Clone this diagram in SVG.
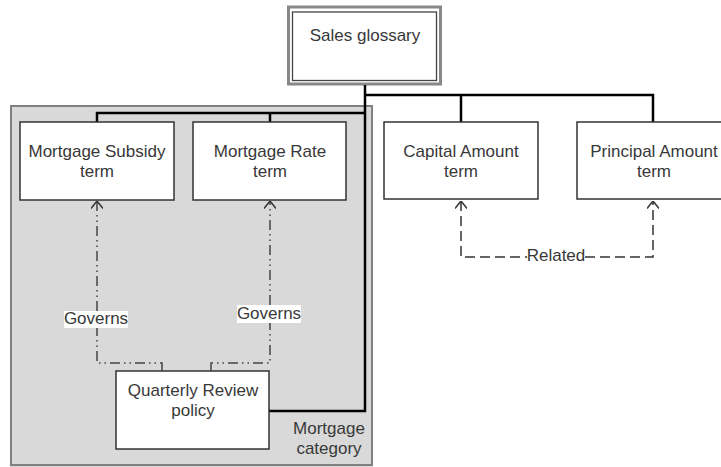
<svg xmlns="http://www.w3.org/2000/svg" width="721" height="467" viewBox="0 0 721 467">
  <style>
    text { font-family: "Liberation Sans", Arial, sans-serif; font-size: 17px; fill: #383838; text-anchor: middle; }
    .node { fill: #fff; stroke: #333; stroke-width: 1.5; }
    .hier { fill: none; stroke: #000; stroke-width: 2.5; }
    .gov { fill: none; stroke: #444; stroke-width: 1.5; stroke-dasharray: 10,4,1.5,4,1.5,4; }
    .rel { fill: none; stroke: #333; stroke-width: 1.5; stroke-dasharray: 10,5; }
    .lbl { fill: #fff; }
  </style>
  <defs>
    <marker id="open" viewBox="0 0 8 12" refX="7.5" refY="6" markerWidth="8" markerHeight="12" markerUnits="userSpaceOnUse" orient="auto-start-reverse">
      <path d="M0,0 L7.5,6 L0,12" fill="none" stroke="#333" stroke-width="1.5" stroke-dasharray="none"/>
    </marker>
  </defs>

  <g id="mortgage-category">
    <rect x="10" y="460" width="363" height="7" fill="#d9d9d9"/>
    <rect x="11" y="106" width="361" height="359" fill="#d9d9d9" stroke="#808080" stroke-width="2"/>
    <text x="329" y="434">Mortgage</text>
    <text x="329" y="454">category</text>
  </g>

  <g id="sales-glossary">
    <rect x="288.5" y="7" width="152" height="77" fill="#fff" stroke="#888" stroke-width="3"/>
    <rect x="292.5" y="12" width="144" height="68.5" fill="none" stroke="#444" stroke-width="1.3"/>
    <text x="365" y="41">Sales glossary</text>
  </g>

  <g id="connectors">
    <path class="hier" d="M365,85 V411 H269"/>
    <path class="hier" d="M365,95 H653 V122"/>
    <path class="hier" d="M461,95 V122"/>
    <path class="hier" d="M365,113 H97 V122"/>
    <path class="hier" d="M270,113 V122"/>
    <path class="gov" d="M162,371 V363 H97 V201" marker-end="url(#open)"/>
    <path class="gov" d="M211,371 V363 H270 V201" marker-end="url(#open)"/>
    <path class="rel" d="M461,201 V257 H653 V201" marker-start="url(#open)" marker-end="url(#open)"/>
    <rect class="lbl" x="64" y="311" width="64" height="17"/>
    <text x="96" y="324">Governs</text>
    <rect class="lbl" x="237" y="305" width="64" height="18"/>
    <text x="269" y="319">Governs</text>
    <rect class="lbl" x="527" y="247" width="58" height="15"/>
    <text x="556" y="261">Related</text>
  </g>

  <g id="mortgage-subsidy-term">
    <rect class="node" x="20" y="122" width="154" height="78"/>
    <text x="97" y="157">Mortgage Subsidy</text>
    <text x="97" y="177">term</text>
  </g>

  <g id="mortgage-rate-term">
    <rect class="node" x="193" y="122" width="153" height="78"/>
    <text x="270" y="157">Mortgage Rate</text>
    <text x="270" y="177">term</text>
  </g>

  <g id="capital-amount-term">
    <rect class="node" x="384" y="122" width="154" height="77"/>
    <text x="461" y="157">Capital Amount</text>
    <text x="461" y="177">term</text>
  </g>

  <g id="principal-amount-term">
    <rect class="node" x="577" y="122" width="154" height="77"/>
    <text x="654" y="157">Principal Amount</text>
    <text x="654" y="177">term</text>
  </g>

  <g id="quarterly-review-policy">
    <rect class="node" x="116" y="371" width="153" height="78"/>
    <text x="193" y="396">Quarterly Review</text>
    <text x="193" y="416">policy</text>
  </g>
</svg>
